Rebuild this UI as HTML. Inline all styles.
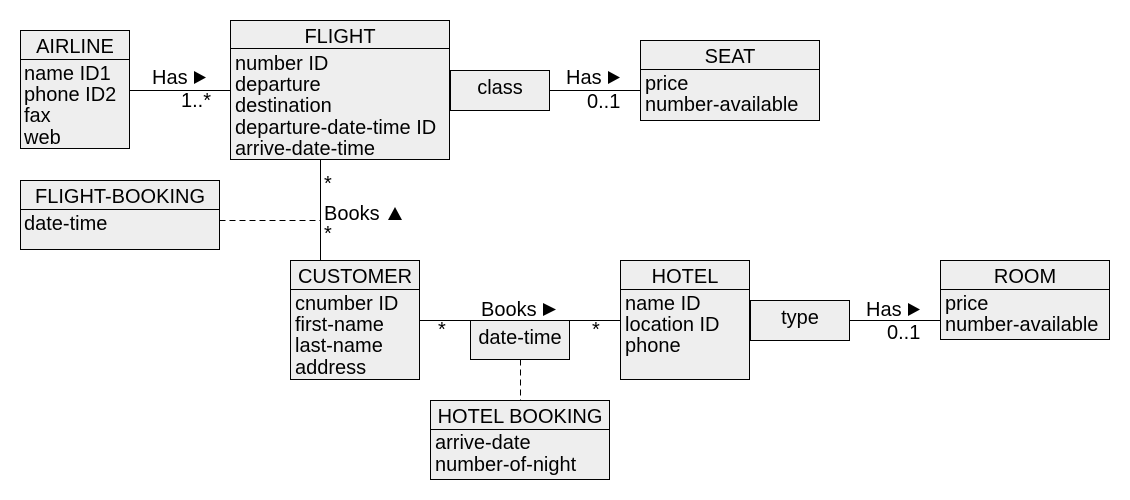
<!DOCTYPE html>
<html><head><meta charset="utf-8"><style>
html,body{margin:0;padding:0;background:#fff;}
svg{display:block;}
text{font-family:"Liberation Sans",Arial,Helvetica,sans-serif;font-size:20px;fill:#000;}
.b{fill:#eeeeee;stroke:#000;stroke-width:1;}
.l{stroke:#000;stroke-width:1;fill:none;}
.d{stroke:#000;stroke-width:1;fill:none;stroke-dasharray:6,4;}
</style></head><body>
<svg width="1130" height="500" viewBox="0 0 1130 500" xmlns="http://www.w3.org/2000/svg" font-family="Liberation Sans, Arial, sans-serif" font-size="20">
<line class="l" x1="129.5" y1="90.5" x2="230.5" y2="90.5"/>
<line class="l" x1="549.5" y1="90.5" x2="640.5" y2="90.5"/>
<line class="l" x1="320.5" y1="159.5" x2="320.5" y2="260.5"/>
<line class="d" x1="219.5" y1="220.5" x2="320.5" y2="220.5"/>
<line class="l" x1="419.5" y1="320.5" x2="620.5" y2="320.5"/>
<line class="d" x1="520.5" y1="359.5" x2="520.5" y2="400.5"/>
<line class="l" x1="849.5" y1="320.5" x2="940.5" y2="320.5"/>

<rect class="b" x="20.5" y="30.5" width="109" height="118"/>
<line class="l" x1="20.5" y1="59.5" x2="129.5" y2="59.5"/>
<text x="75" y="53" text-anchor="middle">AIRLINE</text>
<text x="24" y="80">name ID1</text>
<text x="24" y="101">phone ID2</text>
<text x="24" y="122">fax</text>
<text x="24" y="144">web</text>

<rect class="b" x="230.5" y="20.5" width="219" height="139"/>
<line class="l" x1="230.5" y1="48.5" x2="449.5" y2="48.5"/>
<text x="340" y="43" text-anchor="middle">FLIGHT</text>
<text x="235" y="70">number ID</text>
<text x="235" y="91">departure</text>
<text x="235" y="112">destination</text>
<text x="235" y="134">departure-date-time ID</text>
<text x="235" y="155">arrive-date-time</text>

<rect class="b" x="450.5" y="70.5" width="99" height="40"/>
<text x="500" y="94" text-anchor="middle">class</text>

<rect class="b" x="640.5" y="40.5" width="179" height="80"/>
<line class="l" x1="640.5" y1="69.5" x2="819.5" y2="69.5"/>
<text x="730" y="63" text-anchor="middle">SEAT</text>
<text x="645" y="90">price</text>
<text x="645" y="111">number-available</text>

<rect class="b" x="20.5" y="180.5" width="199" height="69"/>
<line class="l" x1="20.5" y1="209.5" x2="219.5" y2="209.5"/>
<text x="120" y="203" text-anchor="middle">FLIGHT-BOOKING</text>
<text x="24" y="230">date-time</text>

<rect class="b" x="290.5" y="260.5" width="129" height="119"/>
<line class="l" x1="290.5" y1="289.5" x2="419.5" y2="289.5"/>
<text x="355" y="283" text-anchor="middle">CUSTOMER</text>
<text x="295" y="310">cnumber ID</text>
<text x="295" y="331">first-name</text>
<text x="295" y="352">last-name</text>
<text x="295" y="374">address</text>

<rect class="b" x="470.5" y="320.5" width="99" height="39"/>
<text x="520" y="344" text-anchor="middle">date-time</text>

<rect class="b" x="430.5" y="400.5" width="179" height="79"/>
<line class="l" x1="430.5" y1="429.5" x2="609.5" y2="429.5"/>
<text x="520" y="423" text-anchor="middle">HOTEL BOOKING</text>
<text x="435" y="449">arrive-date</text>
<text x="435" y="471">number-of-night</text>

<rect class="b" x="620.5" y="260.5" width="129" height="119"/>
<line class="l" x1="620.5" y1="289.5" x2="749.5" y2="289.5"/>
<text x="685" y="283" text-anchor="middle">HOTEL</text>
<text x="625" y="310">name ID</text>
<text x="625" y="331">location ID</text>
<text x="625" y="352">phone</text>

<rect class="b" x="750.5" y="300.5" width="99" height="40"/>
<text x="800" y="324" text-anchor="middle">type</text>

<rect class="b" x="940.5" y="260.5" width="169" height="79"/>
<line class="l" x1="940.5" y1="289.5" x2="1109.5" y2="289.5"/>
<text x="1025" y="283" text-anchor="middle">ROOM</text>
<text x="945" y="310">price</text>
<text x="945" y="331">number-available</text>

<text x="152" y="84">Has</text><polygon points="194,71 194,84 206,77.5" fill="#000"/>
<text x="181" y="107">1..*</text>
<text x="566" y="84">Has</text><polygon points="608,71 608,84 620,77.5" fill="#000"/>
<text x="587" y="108">0..1</text>
<text x="324" y="190">*</text>
<text x="324" y="220">Books</text><polygon points="388,220 402,220 395,207" fill="#000"/>
<text x="324" y="240">*</text>
<text x="481" y="316">Books</text><polygon points="543,303 543,316 556,309.5" fill="#000"/>
<text x="438" y="336">*</text>
<text x="592" y="336">*</text>
<text x="866" y="316">Has</text><polygon points="908,303 908,316 920,309.5" fill="#000"/>
<text x="887" y="339">0..1</text>
</svg>
</body></html>
